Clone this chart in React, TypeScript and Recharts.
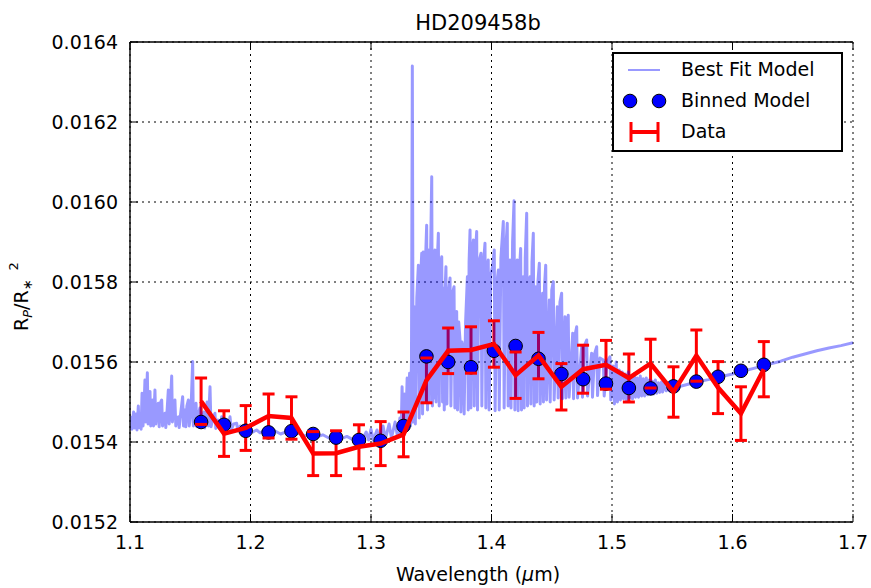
import React from 'react';
import {
  ComposedChart, Line, Scatter, XAxis, YAxis, CartesianGrid, ErrorBar
} from 'recharts';

// wavelength bins (micron)
const binWavelength = [
  1.159, 1.178, 1.196, 1.215, 1.234, 1.252, 1.271, 1.290, 1.308, 1.327,
  1.346, 1.364, 1.383, 1.402, 1.420, 1.439, 1.458, 1.476, 1.495, 1.514,
  1.532, 1.551, 1.570, 1.588, 1.607, 1.626,
];

const binnedModel = [
  0.015450, 0.015443, 0.015428, 0.015424, 0.015427, 0.015420, 0.015411, 0.015405, 0.015403, 0.015440,
  0.015614, 0.015600, 0.015587, 0.015628, 0.015640, 0.015608, 0.015570, 0.015557, 0.015546, 0.015535,
  0.015534, 0.015539, 0.015551, 0.015563, 0.015578, 0.015593,
];

const observed = [
  0.015502, 0.015421, 0.015435, 0.015465, 0.015460, 0.015371, 0.015372, 0.015388, 0.015396, 0.015419,
  0.015554, 0.015628, 0.015630, 0.015645, 0.015567, 0.015616, 0.015538, 0.015582, 0.015593, 0.015560,
  0.015596, 0.015525, 0.015616, 0.015536, 0.015471, 0.015582,
];

const observedErr = [
  0.000058, 0.000057, 0.000056, 0.000055, 0.000053, 0.000055, 0.000056, 0.000055, 0.000055, 0.000056,
  0.000056, 0.000057, 0.000058, 0.000058, 0.000058, 0.000058, 0.000058, 0.000060, 0.000061, 0.000060,
  0.000061, 0.000063, 0.000064, 0.000065, 0.000067, 0.000069,
];

// best fit spectrum, [wavelength, depth x 1e6]
const modelSpectrum: [number, number][] = [
  [1.1000, 15430], [1.1010, 15462], [1.1016, 15432], [1.1030, 15475], [1.1036, 15435],
  [1.1050, 15470], [1.1058, 15430], [1.1069, 15490], [1.1075, 15436], [1.1086, 15470],
  [1.1092, 15432], [1.1100, 15522], [1.1108, 15440], [1.1118, 15500], [1.1124, 15555],
  [1.1130, 15450], [1.1144, 15573], [1.1150, 15445], [1.1160, 15500], [1.1166, 15526],
  [1.1172, 15440], [1.1182, 15490], [1.1188, 15505], [1.1195, 15440], [1.1207, 15530],
  [1.1214, 15445], [1.1225, 15480], [1.1235, 15497], [1.1242, 15438], [1.1255, 15500],
  [1.1263, 15505], [1.1270, 15440], [1.1282, 15465], [1.1290, 15472], [1.1297, 15436],
  [1.1308, 15480], [1.1318, 15530], [1.1325, 15445], [1.1336, 15500], [1.1346, 15565],
  [1.1352, 15450], [1.1362, 15490], [1.1373, 15505], [1.1380, 15440], [1.1390, 15460],
  [1.1401, 15463], [1.1408, 15436], [1.1420, 15470], [1.1437, 15513], [1.1444, 15440],
  [1.1456, 15480], [1.1463, 15438], [1.1472, 15490], [1.1484, 15505], [1.1491, 15440],
  [1.1505, 15470], [1.1520, 15601], [1.1526, 15440], [1.1537, 15480], [1.1548, 15497],
  [1.1555, 15438], [1.1568, 15470], [1.1580, 15485], [1.1588, 15436], [1.1600, 15460],
  [1.1612, 15475], [1.1620, 15435], [1.1640, 15500], [1.1650, 15440], [1.1664, 15538],
  [1.1672, 15438], [1.1690, 15460], [1.1705, 15472], [1.1712, 15434], [1.1730, 15455],
  [1.1745, 15436], [1.1761, 15463], [1.1770, 15432], [1.1790, 15450], [1.1810, 15432],
  [1.1830, 15463], [1.1840, 15430], [1.1860, 15445], [1.1885, 15447], [1.1895, 15428],
  [1.1915, 15440], [1.1940, 15438], [1.1960, 15426], [1.1990, 15436], [1.2020, 15425],
  [1.2051, 15430], [1.2080, 15423], [1.2120, 15430], [1.2160, 15422], [1.2200, 15428],
  [1.2250, 15420], [1.2300, 15426], [1.2350, 15418], [1.2400, 15422], [1.2450, 15415],
  [1.2500, 15420], [1.2550, 15413], [1.2600, 15418], [1.2650, 15410], [1.2700, 15416],
  [1.2750, 15408], [1.2800, 15414], [1.2850, 15406], [1.2900, 15418], [1.2930, 15406],
  [1.2960, 15425], [1.2980, 15405], [1.3000, 15432], [1.3020, 15404], [1.3050, 15430],
  [1.3070, 15406], [1.3100, 15440], [1.3120, 15408], [1.3150, 15445], [1.3170, 15410],
  [1.3200, 15450], [1.3220, 15414], [1.3240, 15460], [1.3250, 15418], [1.3258, 15538],
  [1.3265, 15425], [1.3280, 15520], [1.3288, 15430], [1.3300, 15560], [1.3310, 15435],
  [1.3320, 15572], [1.3328, 15440], [1.3336, 15605], [1.3343, 16340], [1.3350, 15450],
  [1.3360, 15738], [1.3368, 15445], [1.3380, 15760], [1.3393, 15842], [1.3400, 15460],
  [1.3410, 15800], [1.3421, 15872], [1.3428, 15470], [1.3434, 15875], [1.3442, 15500],
  [1.3452, 15850], [1.3462, 15942], [1.3469, 15480], [1.3476, 15880], [1.3484, 15500],
  [1.3494, 15860], [1.3504, 16063], [1.3510, 15490], [1.3517, 15860], [1.3524, 15510],
  [1.3531, 15880], [1.3540, 15500], [1.3550, 15850], [1.3559, 15922], [1.3566, 15490],
  [1.3575, 15840], [1.3587, 15863], [1.3594, 15500], [1.3600, 15785], [1.3608, 15480],
  [1.3615, 15780], [1.3622, 15838], [1.3630, 15495], [1.3640, 15760], [1.3656, 15810],
  [1.3663, 15490], [1.3675, 15770], [1.3689, 15788], [1.3696, 15485], [1.3711, 15726],
  [1.3718, 15480], [1.3728, 15700], [1.3739, 15655], [1.3746, 15475], [1.3755, 15650],
  [1.3766, 15630], [1.3773, 15470], [1.3785, 15700], [1.3800, 15813], [1.3807, 15480],
  [1.3814, 15850], [1.3822, 15930], [1.3829, 15485], [1.3840, 15880], [1.3850, 15905],
  [1.3857, 15490], [1.3866, 15870], [1.3877, 15926], [1.3884, 15480], [1.3895, 15850],
  [1.3913, 15872], [1.3920, 15490], [1.3932, 15840], [1.3946, 15897], [1.3953, 15485],
  [1.3962, 15830], [1.3973, 15855], [1.3980, 15480], [1.3995, 15820], [1.4010, 15840],
  [1.4023, 15880], [1.4030, 15478], [1.4045, 15800], [1.4057, 15830], [1.4064, 15480],
  [1.4078, 15860], [1.4098, 15951], [1.4105, 15485], [1.4118, 15880], [1.4131, 15947],
  [1.4138, 15490], [1.4154, 15855], [1.4162, 15485], [1.4175, 15900], [1.4187, 16003],
  [1.4194, 15480], [1.4203, 15820], [1.4214, 15855], [1.4221, 15478], [1.4232, 15830],
  [1.4242, 15884], [1.4249, 15480], [1.4264, 15813], [1.4271, 15485], [1.4280, 15860],
  [1.4292, 15972], [1.4299, 15490], [1.4310, 15800], [1.4320, 15813], [1.4327, 15495],
  [1.4336, 15850], [1.4347, 15922], [1.4354, 15490], [1.4369, 15788], [1.4376, 15500],
  [1.4385, 15800], [1.4397, 15847], [1.4404, 15495], [1.4424, 15772], [1.4431, 15500],
  [1.4440, 15790], [1.4450, 15842], [1.4457, 15505], [1.4480, 15755], [1.4487, 15500],
  [1.4500, 15780], [1.4513, 15801], [1.4520, 15505], [1.4546, 15738], [1.4553, 15510],
  [1.4568, 15750], [1.4582, 15772], [1.4589, 15508], [1.4610, 15713], [1.4617, 15510],
  [1.4627, 15700], [1.4637, 15717], [1.4644, 15512], [1.4674, 15672], [1.4681, 15508],
  [1.4695, 15670], [1.4707, 15688], [1.4714, 15510], [1.4748, 15638], [1.4755, 15512],
  [1.4770, 15640], [1.4790, 15655], [1.4797, 15515], [1.4831, 15622], [1.4838, 15512],
  [1.4855, 15620], [1.4873, 15638], [1.4880, 15516], [1.4900, 15610], [1.4928, 15605],
  [1.4935, 15515], [1.4960, 15600], [1.4983, 15613], [1.4990, 15505], [1.5010, 15590],
  [1.5020, 15495], [1.5035, 15600], [1.5045, 15500], [1.5060, 15580], [1.5070, 15505],
  [1.5085, 15575], [1.5095, 15508], [1.5110, 15570], [1.5120, 15505], [1.5135, 15575],
  [1.5145, 15510], [1.5160, 15565], [1.5170, 15508], [1.5185, 15570], [1.5195, 15512],
  [1.5210, 15560], [1.5220, 15512], [1.5235, 15565], [1.5245, 15515], [1.5260, 15558],
  [1.5270, 15515], [1.5285, 15560], [1.5295, 15518], [1.5310, 15555], [1.5320, 15520],
  [1.5335, 15552], [1.5345, 15520], [1.5360, 15555], [1.5370, 15522], [1.5385, 15548],
  [1.5395, 15524], [1.5410, 15550], [1.5420, 15525], [1.5435, 15545], [1.5450, 15528],
  [1.5470, 15542], [1.5490, 15530], [1.5510, 15540], [1.5550, 15538], [1.5600, 15542],
  [1.5700, 15550], [1.5800, 15556], [1.5900, 15563], [1.6000, 15570], [1.6100, 15578],
  [1.6200, 15586], [1.6300, 15594], [1.6400, 15602], [1.6500, 15612], [1.6600, 15620],
  [1.6700, 15628], [1.6800, 15635], [1.6900, 15641], [1.7000, 15648],
];

const xTicks = [1.1, 1.2, 1.3, 1.4, 1.5, 1.6, 1.7];
const yTicks = [0.0152, 0.0154, 0.0156, 0.0158, 0.0160, 0.0162, 0.0164];

const FONT = '"DejaVu Sans", sans-serif';
const W = 871;
const H = 588;

const modelData = modelSpectrum.map(([wl, d]) => ({ wl, depth: d / 1e6 }));
const binData = binWavelength.map((wl, i) => ({ wl, depth: binnedModel[i] }));
const obsData = binWavelength.map((wl, i) => ({ wl, depth: observed[i], err: observedErr[i] }));
// cap ends of each error bar (drawn on top, like matplotlib's caplines)
const capData = binWavelength.flatMap((wl, i) => [
  { wl, depth: observed[i] + observedErr[i] },
  { wl, depth: observed[i] - observedErr[i] },
]);

const tickStyle = { fill: '#000', fontSize: 19, fontFamily: FONT };

function TitleLabel() {
  return (
    <text x={478} y={30} textAnchor="middle" fontSize={21} fontFamily={FONT} fill="#000">
      HD209458b
    </text>
  );
}

function XLabel() {
  return (
    <text x={478} y={581} textAnchor="middle" fontSize={19} fontFamily={FONT} fill="#000">
      Wavelength (<tspan fontStyle="italic">μ</tspan>m)
    </text>
  );
}

function YLabel() {
  return (
    <text transform="translate(28, 331) rotate(-90)" fontSize={19} fontFamily={FONT} fill="#000">
      R<tspan fontStyle="italic" fontSize={13} dy={4}>P</tspan>
      <tspan dy={-4}>/R</tspan>
      <tspan fontSize={13} dy={4}>∗</tspan>
      <tspan fontSize={13} dy={-14} dx={9}>2</tspan>
    </text>
  );
}

function Dot(props: any) {
  const { cx, cy } = props;
  if (cx == null || cy == null) return null;
  return <circle cx={cx} cy={cy} r={6.8} fill="#0000ff" stroke="#000" strokeWidth={1} />;
}

function Cap(props: any) {
  const { cx, cy } = props;
  if (cx == null || cy == null) return null;
  return <line x1={cx - 6} x2={cx + 6} y1={cy} y2={cy} stroke="#ff0000" strokeWidth={3} />;
}

function LegendBox() {
  const row = { position: 'absolute' as const, left: 67, fontSize: 19, fontFamily: FONT, color: '#000', lineHeight: '20px' };
  return (
    <div style={{
      position: 'absolute', left: 612, top: 52, width: 227, height: 96,
      border: '2px solid #000', background: '#fff',
    }}>
      <svg width={60} height={96} style={{ position: 'absolute', left: 0, top: 0 }}>
        <line x1={14} y1={16} x2={46} y2={16} stroke="#0000ff" strokeOpacity={0.4} strokeWidth={2} />
        <circle cx={16} cy={47} r={6.8} fill="#0000ff" stroke="#000" strokeWidth={1} />
        <circle cx={45} cy={47} r={6.8} fill="#0000ff" stroke="#000" strokeWidth={1} />
        <line x1={16} y1={78} x2={45} y2={78} stroke="#ff0000" strokeWidth={4} />
        <line x1={17} y1={68} x2={17} y2={88} stroke="#ff0000" strokeWidth={3} />
        <line x1={44} y1={68} x2={44} y2={88} stroke="#ff0000" strokeWidth={3} />
      </svg>
      <div style={{ ...row, top: 5 }}>Best Fit Model</div>
      <div style={{ ...row, top: 36 }}>Binned Model</div>
      <div style={{ ...row, top: 67 }}>Data</div>
    </div>
  );
}

export default function App() {
  return (
    <div style={{ position: 'relative', width: W, height: H, background: '#fff' }}>
      <style>{`body { margin: 0; }`}</style>
      <ComposedChart width={W} height={H} margin={{ top: 0, right: 18, bottom: 0, left: 0 }}>
        <CartesianGrid stroke="#000" strokeDasharray="2 4" strokeWidth={1} />
        <XAxis
          dataKey="wl"
          type="number"
          domain={[1.1, 1.7]}
          ticks={xTicks}
          allowDataOverflow
          height={66}
          tickSize={-8}
          tickMargin={22}
          tick={tickStyle}
          tickFormatter={(v: number) => v.toFixed(1)}
          axisLine={{ stroke: '#000', strokeWidth: 1.4 }}
          tickLine={{ stroke: '#000' }}
          label={XLabel}
        />
        <XAxis
          xAxisId="top"
          orientation="top"
          dataKey="wl"
          type="number"
          domain={[1.1, 1.7]}
          ticks={xTicks}
          allowDataOverflow
          height={42}
          tickSize={-8}
          tickFormatter={() => ''}
          axisLine={{ stroke: '#000', strokeWidth: 1.4 }}
          tickLine={{ stroke: '#000' }}
          label={TitleLabel}
        />
        <YAxis
          type="number"
          domain={[0.0152, 0.0164]}
          ticks={yTicks}
          allowDataOverflow
          width={130}
          tickSize={-8}
          tickMargin={20}
          tick={tickStyle}
          tickFormatter={(v: number) => v.toFixed(4)}
          axisLine={{ stroke: '#000', strokeWidth: 1.4 }}
          tickLine={{ stroke: '#000' }}
          label={YLabel}
        />
        <YAxis
          yAxisId="right"
          orientation="right"
          type="number"
          domain={[0.0152, 0.0164]}
          ticks={yTicks}
          allowDataOverflow
          width={0}
          tickSize={-8}
          tickFormatter={() => ''}
          axisLine={{ stroke: '#000', strokeWidth: 1.4 }}
          tickLine={{ stroke: '#000' }}
        />

        {/* vertical error bars, underneath the model (shaded by it) */}
        <Line
          data={obsData}
          dataKey="depth"
          stroke="none"
          dot={false}
          activeDot={false}
          isAnimationActive={false}
          zIndex={350}
        >
          <ErrorBar dataKey="err" width={0} stroke="#ff0000" strokeWidth={3} isAnimationActive={false} zIndex={350} />
        </Line>

        <Line
          data={modelData}
          dataKey="depth"
          stroke="#0000ff"
          strokeOpacity={0.4}
          strokeWidth={3}
          strokeLinejoin="round"
          dot={false}
          activeDot={false}
          isAnimationActive={false}
          zIndex={400}
        />

        <Scatter
          data={binData}
          dataKey="depth"
          shape={Dot}
          isAnimationActive={false}
          zIndex={600}
        />

        <Line
          data={obsData}
          dataKey="depth"
          stroke="#ff0000"
          strokeWidth={4.5}
          dot={false}
          activeDot={false}
          isAnimationActive={false}
          zIndex={700}
        />

        <Scatter
          data={capData}
          dataKey="depth"
          shape={Cap}
          isAnimationActive={false}
          zIndex={710}
        />
      </ComposedChart>
      <LegendBox />
    </div>
  );
}
